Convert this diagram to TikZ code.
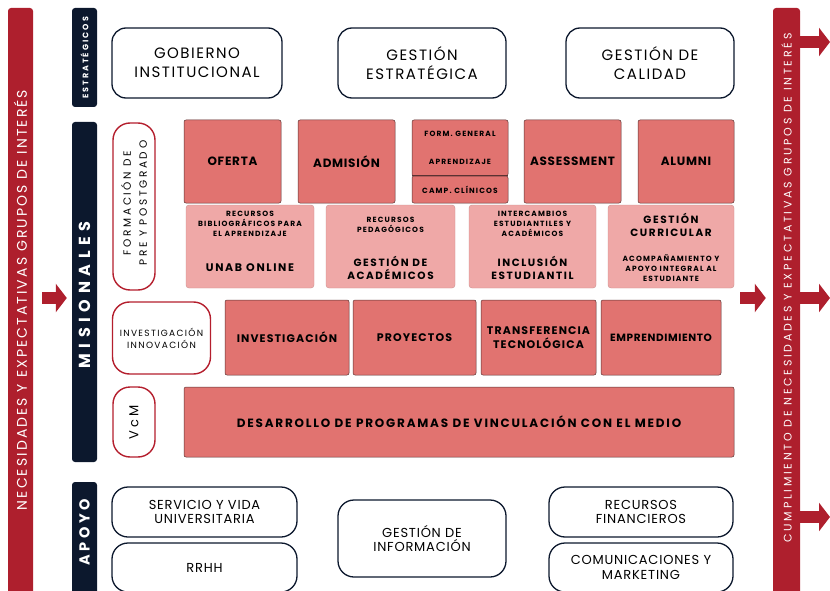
\documentclass[tikz,border=0pt]{standalone}
\usepackage{fontspec}
\setmainfont{Poppins}
\newfontfamily\fsA[LetterSpace=6]{Poppins}
\newfontfamily\fsB[LetterSpace=10]{Poppins}
\newfontfamily\fsC[LetterSpace=15]{Poppins}
\newfontfamily\fsD[LetterSpace=25]{Poppins}
\newfontfamily\fsE[LetterSpace=35]{Poppins}
\usetikzlibrary{arrows.meta}
\definecolor{dred}{RGB}{174,31,45}
\definecolor{navy}{RGB}{12,24,45}
\definecolor{boxred}{RGB}{225,115,112}
\definecolor{pinkbox}{RGB}{239,168,167}
\definecolor{bred}{RGB}{180,30,45}
\definecolor{edge}{RGB}{90,50,50}
\tikzset{
  sbox/.style={draw=navy, line width=1.3pt, rounded corners=14pt, fill=white, align=center, inner sep=0pt, font=\fsB\fontsize{15}{19}\selectfont},
  abox/.style={draw=navy, line width=1.3pt, rounded corners=16pt, fill=white, align=center, inner sep=0pt, font=\fsA\fontsize{13}{14.5}\selectfont},
  wbox/.style={draw=bred, line width=1.4pt, rounded corners=17pt, fill=white, align=center, inner sep=0pt},
  rbox/.style={draw=edge, line width=0.5pt, fill=boxred, rounded corners=2pt, align=center, inner sep=0pt, font=\fsA\bfseries\fontsize{12}{14}\selectfont},
  r3box/.style={rbox, font=\fsB\bfseries\fontsize{11}{13.5}\selectfont},
  pbox/.style={draw=pinkbox!85!black, line width=0.4pt, fill=pinkbox, rounded corners=3pt, inner sep=0pt},
  ptxt/.style={align=center, inner sep=0pt, font=\fsC\bfseries\fontsize{7.5}{10}\selectfont},
  ptxtb/.style={align=center, inner sep=0pt, font=\fsC\bfseries\fontsize{10.5}{13}\selectfont},
  stxt/.style={align=center, inner sep=0pt, font=\fsC\bfseries\fontsize{7.5}{9}\selectfont},
  navybar/.style={fill=navy, rounded corners=3pt, inner sep=0pt},
  redbar/.style={fill=dred, rounded corners=3pt, inner sep=0pt},
  bartxt/.style={text=white, rotate=90, inner sep=0pt},
  bigarrow/.style={draw=dred, line width=12pt, -{Triangle[width=28pt,length=11pt]}},
}
\begin{document}
\begin{tikzpicture}[x=1pt,y=-1pt]
\useasboundingbox (0,0) rectangle (830,591);
% side bars
\node[redbar, minimum width=25pt, minimum height=592pt] (lbar) at (20.5,304) {};
\node[bartxt, font=\fsC\fontsize{14}{16}\selectfont] (lbartxt) at (20.5,300) {NECESIDADES Y EXPECTATIVAS GRUPOS DE INTERÉS};
\node[redbar, minimum width=27pt, minimum height=592pt] (rbar) at (786.5,304) {};
\node[bartxt, font=\fsD\fontsize{11}{12}\selectfont] (rbartxt) at (786.5,288) {CUMPLIMIENTO DE NECESIDADES Y EXPECTATIVAS GRUPOS DE INTERÉS};
% navy bars
\node[navybar, minimum width=25pt, minimum height=99pt] (estr) at (84.5,57.5) {};
\node[bartxt, font=\fsD\bfseries\fontsize{8}{9}\selectfont] (estrtxt) at (84.5,58) {ESTRATÉGICOS};
\node[navybar, minimum width=25pt, minimum height=340pt] (mis) at (84.5,292) {};
\node[bartxt, font=\fsE\bfseries\fontsize{16}{18}\selectfont] (mistxt) at (84.5,295) {MISIONALES};
\node[navybar, minimum width=25pt, minimum height=118pt] (apo) at (84.5,541) {};
\node[bartxt, font=\fsD\bfseries\fontsize{14.5}{16}\selectfont] (apotxt) at (84.5,532) {APOYO};
% arrows
\coordinate (la) at (42,298);
\coordinate (ra) at (740,298);
\coordinate (o1) at (830,42);
\coordinate (o2) at (830,298);
\coordinate (o3) at (830,517);
\draw[bigarrow, shorten <=9pt, shorten >=5pt] (lbar.east |- la) -- (mis.west |- la);
\draw[bigarrow] (ra) -- ([xshift=-7pt]rbar.west |- ra);
\draw[bigarrow] (rbar.east |- o1) -- (o1);
\draw[bigarrow] (rbar.east |- o2) -- (o2);
\draw[bigarrow] (rbar.east |- o3) -- (o3);
% strategic
\node[sbox, minimum width=170pt, minimum height=70pt] (gob) at (197,63) {GOBIERNO\\INSTITUCIONAL};
\node[sbox, minimum width=168pt, minimum height=70pt] (gest) at (422,63) {GESTIÓN\\ESTRATÉGICA};
\node[sbox, minimum width=168pt, minimum height=70pt] (cal) at (650,63) {GESTIÓN DE\\CALIDAD};
% formacion
\node[wbox, minimum width=42pt, minimum height=167pt] (form) at (134,206.5) {};
\node[bartxt, text=black, align=center, font=\fsD\fontsize{10.5}{16}\selectfont] (formtxt) at (134,203) {FORMACIÓN DE\\PRE Y POSTGRADO};
% row 1
\node[rbox, minimum width=97pt, minimum height=83pt] (oferta) at (232.5,161.5) {OFERTA};
\node[rbox, minimum width=97pt, minimum height=83pt] (admision) at (346.5,161.5) {ADMISIÓN};
\node[rbox, minimum width=96pt, minimum height=56pt] (stk) at (460,148) {};
\node[stxt] (fg) at (460,134) {FORM. GENERAL};
\node[stxt] (apr) at (460,162) {APRENDIZAJE};
\node[rbox, minimum width=96pt, minimum height=27pt, font=\fsC\bfseries\fontsize{7.5}{9}\selectfont] (camp) at (460,189.5) {CAMP. CLÍNICOS};
\draw[edge, line width=1pt] (camp.north west) -- (camp.north east);
\node[rbox, minimum width=97pt, minimum height=83pt] (assess) at (572.5,161.5) {ASSESSMENT};
\node[rbox, minimum width=96pt, minimum height=83pt] (alumni) at (686,161.5) {ALUMNI};
% row 2
\node[pbox, minimum width=128pt, minimum height=83pt] (p1) at (250,246.5) {};
\node[pbox, minimum width=129pt, minimum height=83pt] (p2) at (390.5,246.5) {};
\node[pbox, minimum width=127pt, minimum height=83pt] (p3) at (532.5,246.5) {};
\node[pbox, minimum width=126pt, minimum height=83pt] (p4) at (671,246.5) {};
\node[ptxt] (p1t) at (250,224) {RECURSOS\\BIBLIOGRÁFICOS PARA\\EL APRENDIZAJE};
\node[ptxtb, font=\fsC\bfseries\fontsize{11}{13}\selectfont] (p1b) at (250,268) {UNAB ONLINE};
\node[ptxt] (p2t) at (390.5,225) {RECURSOS\\PEDAGÓGICOS};
\node[ptxtb] (p2b) at (390.5,268) {GESTIÓN DE\\ACADÉMICOS};
\node[ptxt] (p3t) at (532.5,224) {INTERCAMBIOS\\ESTUDIANTILES Y\\ACADÉMICOS};
\node[ptxtb] (p3b) at (532.5,268) {INCLUSIÓN\\ESTUDIANTIL};
\node[ptxtb] (p4t) at (671,225) {GESTIÓN\\CURRICULAR};
\node[ptxt] (p4b) at (671,268) {ACOMPAÑAMIENTO Y\\APOYO INTEGRAL AL\\ESTUDIANTE};
% row 3
\node[wbox, minimum width=98pt, minimum height=72pt, font=\fsC\fontsize{9}{12}\selectfont] (innov) at (161.5,338) {INVESTIGACIÓN\\INNOVACIÓN};
\node[r3box, minimum width=124pt, minimum height=75pt] (inv) at (287,337.5) {INVESTIGACIÓN};
\node[r3box, minimum width=123pt, minimum height=75pt] (proy) at (414.5,337.5) {PROYECTOS};
\node[r3box, minimum width=115pt, minimum height=75pt] (trans) at (538.5,337.5) {TRANSFERENCIA\\TECNOLÓGICA};
\node[r3box, minimum width=120pt, minimum height=75pt, font=\fsA\bfseries\fontsize{10.5}{13}\selectfont] (empr) at (661,337.5) {EMPRENDIMIENTO};
% row 4
\node[wbox, minimum width=42pt, minimum height=70pt] (vcm) at (134,422) {};
\node[bartxt, text=black, font=\fsD\fontsize{13}{15}\selectfont] (vcmtxt) at (vcm.center) {VcM};
\node[rbox, minimum width=550pt, minimum height=70pt, font=\fsC\bfseries\fontsize{12}{14}\selectfont] (desa) at (459,422) {DESARROLLO DE PROGRAMAS DE VINCULACIÓN CON EL MEDIO};
% apoyo
\node[abox, minimum width=185pt, minimum height=50pt] (serv) at (204.5,512) {SERVICIO Y VIDA\\UNIVERSITARIA};
\node[abox, minimum width=185pt, minimum height=49pt] (rrhh) at (204.5,567.5) {RRHH};
\node[abox, minimum width=168pt, minimum height=77pt] (info) at (422,538.5) {GESTIÓN DE\\INFORMACIÓN};
\node[abox, minimum width=184pt, minimum height=50pt] (fin) at (641,512) {RECURSOS\\FINANCIEROS};
\node[abox, minimum width=184pt, minimum height=49pt] (com) at (641,567.5) {COMUNICACIONES Y\\MARKETING};
\end{tikzpicture}
\end{document}
